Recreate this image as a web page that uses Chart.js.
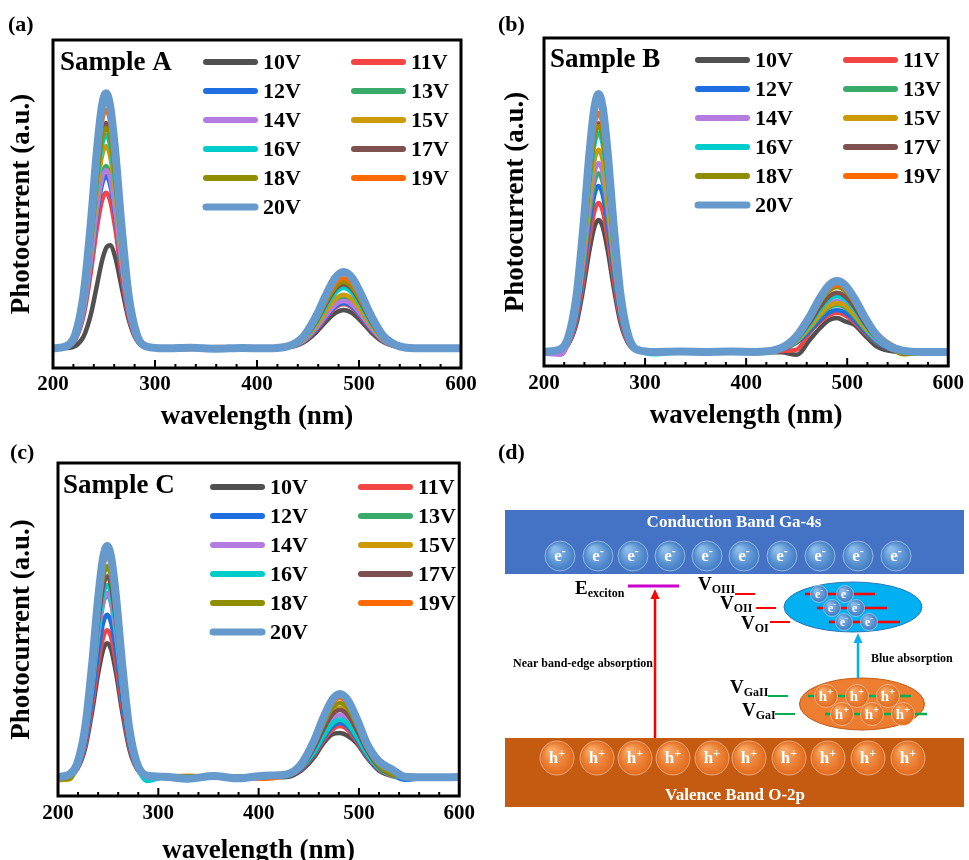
<!DOCTYPE html>
<html>
<head>
<meta charset="utf-8">
<script src="https://cdn.jsdelivr.net/npm/chart.js@4.4.1/dist/chart.umd.min.js"></script>
<style>
  html, body { margin: 0; padding: 0; background: #fff; width: 969px; height: 860px; overflow: hidden; }
  canvas { position: absolute; }
</style>
</head>
<body>
<canvas id="chartA" width="485" height="440" style="left:0;top:0"></canvas>
<canvas id="chartB" width="479" height="440" style="left:490px;top:0"></canvas>
<canvas id="chartC" width="480" height="440" style="left:0;top:430px"></canvas>
<canvas id="diagram" width="479" height="430" style="left:490px;top:430px"></canvas>
<script>
const voltages = ['10V', '11V', '12V', '13V', '14V', '15V', '16V', '17V', '18V', '19V', '20V'];
const colors = ['#505050', '#F44545', '#1F6FE0', '#3AAA6A', '#B47CE0', '#CC9A06', '#00CCCC', '#7E5050', '#8E8E00', '#FF6A00', '#6699CC'];
const xTicks = [200, 300, 400, 500, 600];

// sample A
const wlA = [200, 215, 222, 230, 237, 243, 248, 252, 256, 261, 267, 274, 282, 292, 310, 335, 360, 385, 410, 430, 445, 458, 468, 477, 485, 493, 502, 512, 524, 537, 550, 575, 600];
const a10 = [6.2, 6.1, 6.7, 9.6, 16.2, 25.1, 32.6, 36.5, 37.4, 33.8, 25.1, 15.0, 8.5, 6.3, 5.8, 6.0, 6.2, 5.9, 6.1, 6.3, 7.7, 10.9, 14.3, 16.8, 17.7, 16.8, 14.3, 10.9, 7.9, 6.5, 6.0, 5.8, 5.9];
const a11 = [6.0, 6.6, 8.7, 16.0, 29.1, 42.6, 51.0, 53.4, 51.0, 42.6, 29.1, 16.0, 8.7, 6.3, 6.1, 5.9, 6.3, 6.0, 5.8, 6.4, 8.0, 11.7, 15.5, 18.5, 19.5, 18.5, 15.5, 11.7, 8.2, 6.5, 6.1, 5.9, 6.0];
const a12 = [6.0, 6.7, 8.9, 17.1, 31.6, 46.5, 55.9, 58.5, 55.9, 46.5, 31.6, 17.1, 8.9, 6.3, 5.9, 6.1, 5.8, 6.2, 6.0, 6.4, 8.0, 11.8, 15.8, 18.8, 19.8, 18.8, 15.8, 11.8, 8.2, 6.6, 6.1, 5.8, 6.0];
const a13 = [6.1, 6.7, 9.1, 17.8, 33.1, 48.9, 58.8, 61.6, 58.8, 48.9, 33.1, 17.8, 9.1, 6.3, 6.0, 6.2, 5.9, 6.1, 6.0, 6.4, 8.3, 12.6, 17.0, 20.4, 21.6, 20.4, 17.0, 12.6, 8.5, 6.6, 6.1, 6.0, 5.9];
const a14 = [6.0, 6.7, 9.0, 17.5, 32.5, 48.0, 57.7, 60.4, 57.7, 48.0, 32.5, 17.5, 9.0, 6.3, 5.7, 5.9, 6.1, 5.8, 6.0, 6.4, 8.1, 12.1, 16.2, 19.3, 20.4, 19.3, 16.2, 12.1, 8.3, 6.6, 6.1, 5.8, 6.0];
const a15 = [6.0, 6.8, 9.5, 19.1, 36.0, 53.6, 64.6, 67.7, 64.6, 53.6, 36.0, 19.1, 9.5, 6.4, 6.1, 5.9, 6.2, 6.0, 6.3, 6.4, 8.4, 12.9, 17.5, 21.1, 22.3, 21.1, 17.5, 12.9, 8.6, 6.7, 6.1, 6.0, 6.1];
const a16 = [6.0, 6.8, 9.6, 19.8, 37.7, 56.2, 67.8, 71.0, 67.8, 56.2, 37.7, 19.8, 9.6, 6.4, 5.8, 6.2, 6.0, 6.1, 5.7, 6.5, 8.7, 13.7, 19.0, 23.0, 24.4, 23.0, 19.0, 13.7, 8.9, 6.7, 6.1, 6.2, 6.0];
const a17 = [6.2, 6.9, 9.9, 20.6, 39.5, 59.0, 71.3, 74.7, 71.3, 59.0, 39.5, 20.6, 9.9, 6.4, 6.0, 6.1, 5.9, 6.2, 6.0, 6.5, 8.9, 14.2, 19.8, 24.1, 25.5, 24.1, 19.8, 14.2, 9.1, 6.8, 6.1, 5.9, 5.8];
const a18 = [6.0, 6.8, 9.8, 20.2, 38.7, 57.9, 69.8, 73.2, 69.8, 57.9, 38.7, 20.2, 9.8, 6.4, 6.1, 5.8, 6.0, 6.2, 5.9, 6.5, 9.0, 14.5, 20.3, 24.7, 26.2, 24.7, 20.3, 14.5, 9.2, 6.8, 6.1, 6.0, 5.9];
const a19 = [6.2, 6.9, 10.1, 21.4, 41.4, 62.1, 75.1, 78.7, 75.1, 62.1, 41.4, 21.4, 10.1, 6.4, 6.3, 6.0, 6.4, 6.1, 6.2, 6.6, 9.1, 15.0, 21.1, 25.8, 27.4, 25.8, 21.1, 15.0, 9.4, 6.9, 6.1, 6.2, 6.0];
const a20 = [6.0, 7.0, 10.4, 22.5, 43.9, 66.1, 79.9, 83.8, 79.9, 66.1, 43.9, 22.5, 10.4, 6.5, 6.0, 6.2, 5.9, 6.1, 6.0, 6.6, 9.4, 15.8, 22.5, 27.6, 29.3, 27.6, 22.5, 15.8, 9.7, 6.9, 6.1, 6.0, 6.0];

// sample B
const wlB = [200, 217, 224, 232, 239, 245, 250, 254, 258, 263, 269, 276, 284, 294, 310, 335, 360, 385, 410, 435, 450, 463, 473, 482, 490, 498, 507, 517, 529, 542, 555, 575, 600];
const b10 = [4.3, 4.8, 6.6, 12.8, 23.9, 35.3, 42.5, 44.5, 42.5, 35.3, 23.9, 12.8, 6.6, 4.5, 4.2, 4.4, 4.3, 4.1, 4.3, 4.2, 3.4, 8.0, 11.5, 14.0, 14.6, 13.6, 12.6, 9.5, 6.0, 4.6, 4.2, 4.3, 4.3];
const b11 = [4.2, 4.9, 6.8, 13.9, 26.4, 39.3, 47.4, 49.7, 47.4, 39.3, 26.4, 13.9, 6.8, 4.6, 4.3, 4.2, 4.4, 4.3, 4.2, 4.6, 5.0, 10.3, 13.4, 15.5, 16.2, 15.5, 13.4, 10.3, 7.1, 5.2, 4.5, 4.3, 4.3];
const b12 = [4.0, 4.9, 7.1, 15.0, 28.9, 43.4, 52.4, 54.9, 52.4, 43.4, 28.9, 15.0, 7.1, 4.6, 4.3, 4.4, 4.2, 4.3, 4.4, 5.0, 7.1, 10.7, 14.0, 16.3, 17.1, 16.3, 14.0, 10.7, 7.3, 5.3, 4.5, 4.3, 4.3];
const b13 = [4.3, 5.0, 7.4, 15.9, 30.8, 46.4, 56.1, 58.8, 56.1, 46.4, 30.8, 15.9, 7.4, 4.6, 4.4, 4.3, 4.5, 4.2, 4.3, 5.1, 7.5, 11.5, 15.2, 17.8, 18.6, 17.8, 15.2, 11.5, 7.7, 5.4, 4.6, 4.3, 4.3];
const b14 = [3.8, 3.4, 7.0, 16.5, 32.4, 48.8, 59.0, 61.9, 59.0, 48.8, 32.4, 16.5, 7.5, 4.7, 4.2, 4.3, 4.4, 4.3, 4.2, 5.2, 7.7, 12.1, 16.1, 18.9, 19.8, 18.9, 16.1, 12.1, 8.0, 5.5, 4.6, 4.3, 4.3];
const b15 = [4.3, 5.1, 7.8, 17.4, 34.3, 51.9, 62.8, 65.9, 62.8, 51.9, 34.3, 17.4, 7.8, 4.7, 4.3, 4.5, 4.3, 4.4, 4.3, 5.2, 7.6, 11.8, 15.6, 18.3, 19.2, 18.3, 15.6, 11.8, 8.4, 6.0, 5.0, 4.3, 4.3];
const b16 = [4.3, 5.1, 8.0, 18.4, 36.8, 55.8, 67.7, 71.0, 67.7, 55.8, 36.8, 18.4, 8.0, 4.7, 3.6, 4.3, 4.2, 4.4, 4.3, 5.3, 8.0, 12.8, 17.2, 20.3, 21.3, 20.3, 17.2, 12.8, 8.3, 5.6, 4.6, 4.3, 4.3];
const b17 = [4.3, 5.2, 8.2, 19.1, 38.2, 58.1, 70.5, 74.0, 70.5, 58.1, 38.2, 19.1, 8.2, 4.7, 4.3, 4.4, 4.3, 4.5, 4.3, 5.3, 8.3, 13.3, 18.0, 21.2, 22.3, 21.2, 18.0, 13.3, 8.6, 5.7, 4.6, 4.3, 4.3];
const b18 = [4.3, 5.2, 8.2, 18.9, 37.9, 57.5, 69.8, 73.2, 69.8, 57.5, 37.9, 18.9, 8.2, 4.7, 4.4, 4.3, 4.5, 4.6, 4.3, 5.4, 8.7, 14.2, 19.4, 22.9, 24.1, 22.9, 19.4, 14.2, 9.0, 5.8, 3.6, 4.0, 4.3];
const b19 = [3.9, 5.2, 8.4, 19.7, 39.8, 60.5, 73.5, 77.1, 73.5, 60.5, 39.8, 19.7, 8.4, 4.7, 4.2, 4.3, 4.4, 4.3, 4.0, 5.5, 8.8, 14.5, 19.8, 23.5, 24.7, 23.5, 19.8, 15.0, 10.0, 6.8, 4.9, 4.3, 4.3];
const b20 = [4.3, 5.3, 8.7, 21.0, 42.6, 65.0, 79.0, 82.9, 79.0, 65.0, 42.6, 21.0, 8.7, 4.8, 4.3, 4.4, 4.3, 4.4, 4.3, 5.5, 9.1, 15.1, 20.7, 24.6, 25.9, 24.6, 20.7, 15.1, 9.4, 6.0, 4.7, 4.3, 4.3];

// sample C
const wlC = [200, 212, 219, 227, 234, 240, 245, 249, 253, 258, 264, 271, 279, 289, 305, 330, 355, 380, 405, 428, 442, 455, 464, 473, 481, 489, 498, 508, 520, 533, 546, 570, 600];
const c10 = [5.5, 6.2, 8.0, 14.2, 25.3, 36.7, 43.9, 45.9, 43.9, 36.7, 25.3, 14.2, 8.0, 5.9, 5.6, 5.8, 5.7, 5.9, 5.6, 5.7, 7.5, 11.5, 15.6, 18.5, 18.9, 18.0, 15.8, 11.5, 7.6, 6.0, 5.6, 5.7, 5.6];
const c11 = [5.7, 6.3, 8.2, 15.1, 27.2, 39.7, 47.6, 49.8, 47.6, 39.7, 27.2, 15.1, 8.2, 6.0, 5.8, 5.6, 5.9, 5.7, 5.8, 6.2, 8.0, 12.3, 16.4, 19.8, 21.0, 19.8, 16.4, 11.9, 8.0, 6.2, 5.8, 5.7, 5.7];
const c12 = [5.7, 6.3, 8.4, 16.0, 29.4, 43.3, 52.0, 54.4, 52.0, 43.3, 29.4, 16.0, 8.4, 6.0, 5.7, 5.9, 5.6, 5.8, 5.7, 6.2, 8.1, 12.7, 17.0, 20.7, 21.9, 20.7, 17.0, 12.2, 8.1, 6.3, 4.9, 5.6, 5.7];
const c13 = [5.7, 6.4, 8.8, 17.3, 32.3, 47.9, 57.7, 60.4, 57.7, 47.9, 32.3, 17.3, 8.8, 6.0, 5.8, 5.7, 6.0, 5.6, 5.8, 6.2, 8.3, 13.1, 17.6, 21.5, 22.8, 21.5, 17.6, 12.6, 8.3, 6.3, 5.8, 5.7, 5.7];
const c14 = [5.7, 6.4, 8.8, 17.4, 32.6, 48.4, 58.2, 61.0, 58.2, 48.4, 32.6, 17.4, 8.8, 6.0, 5.7, 5.8, 5.7, 5.9, 5.7, 6.3, 8.5, 13.7, 18.7, 22.9, 24.3, 22.9, 18.7, 13.2, 8.5, 6.3, 5.8, 5.7, 5.7];
const c15 = [4.8, 5.0, 9.2, 19.1, 36.5, 54.6, 65.8, 69.0, 65.8, 54.6, 36.5, 19.1, 9.2, 6.1, 5.9, 6.1, 5.8, 5.7, 5.9, 6.3, 8.8, 14.6, 20.2, 24.9, 26.5, 24.9, 20.2, 14.1, 8.8, 6.4, 5.8, 5.7, 5.7];
const c16 = [5.7, 6.4, 8.9, 17.9, 33.8, 50.2, 60.5, 63.4, 60.5, 50.2, 33.8, 17.9, 8.9, 4.5, 5.6, 5.8, 5.7, 5.8, 6.0, 6.9, 8.9, 13.1, 17.8, 21.7, 23.0, 21.7, 17.8, 12.7, 8.3, 6.3, 5.5, 5.7, 5.7];
const c17 = [5.7, 6.5, 9.1, 18.5, 35.1, 52.3, 63.0, 66.0, 63.0, 52.3, 35.1, 18.5, 9.1, 6.1, 5.8, 5.7, 5.9, 5.6, 5.8, 6.3, 8.7, 14.3, 19.7, 24.3, 25.8, 24.3, 19.7, 13.8, 8.7, 6.4, 5.8, 5.7, 5.7];
const c18 = [5.0, 5.3, 9.2, 19.1, 36.5, 54.6, 65.8, 69.0, 65.8, 54.6, 36.5, 19.1, 9.2, 6.1, 5.7, 5.9, 5.7, 5.8, 5.6, 6.4, 9.0, 15.3, 21.2, 26.2, 27.9, 26.2, 21.2, 14.6, 9.0, 6.5, 5.8, 5.7, 5.7];
const c19 = [5.7, 6.5, 9.4, 19.8, 38.0, 56.9, 68.7, 72.0, 68.7, 56.9, 38.0, 19.8, 9.4, 6.1, 5.5, 5.2, 6.0, 5.4, 5.2, 6.4, 9.2, 15.9, 22.2, 27.6, 29.4, 27.6, 22.2, 16.0, 10.5, 7.5, 6.0, 5.4, 5.7];
const c20 = [5.7, 6.6, 9.6, 20.4, 39.5, 59.3, 71.6, 75.1, 71.6, 59.3, 39.5, 20.4, 9.6, 6.1, 5.8, 5.2, 6.0, 5.3, 6.1, 6.5, 9.4, 16.4, 23.1, 28.7, 30.6, 28.7, 23.1, 15.7, 10.4, 8.0, 5.8, 5.6, 5.7];

const FONT = '"Liberation Serif", "Times New Roman", serif';

// frame, inward ticks, legend, sample name and panel tag
const panelDeco = {
  id: 'panelDeco',
  afterDraw(chart, args, o) {
    const ctx = chart.ctx;
    const a = chart.chartArea;
    const xs = chart.scales.x;
    ctx.save();
    ctx.strokeStyle = '#000';
    ctx.lineWidth = 2;
    for (let v = 220; v < 600; v += 20) {
      const px = xs.getPixelForValue(v);
      const len = v % 100 === 0 ? 8 : 4;
      ctx.beginPath();
      ctx.moveTo(px, a.bottom);
      ctx.lineTo(px, a.bottom - len);
      ctx.stroke();
    }
    ctx.lineWidth = 3;
    ctx.strokeRect(a.left, a.top, a.right - a.left, a.bottom - a.top);

    ctx.fillStyle = '#000';
    ctx.font = 'bold 27px ' + FONT;
    ctx.textBaseline = 'alphabetic';
    ctx.fillText(o.name, a.left + o.nameDx, a.top + o.nameDy);

    ctx.font = 'bold 22px ' + FONT;
    ctx.textBaseline = 'middle';
    ctx.lineCap = 'round';
    chart.data.datasets.forEach(function (ds, i) {
      const x = a.left + (i % 2 ? o.col2 : o.col1);
      const y = a.top + o.row1 + Math.floor(i / 2) * 29;
      ctx.strokeStyle = ds.borderColor;
      ctx.lineWidth = i === 10 ? 7 : 6;
      ctx.beginPath();
      ctx.moveTo(x + 3, y);
      ctx.lineTo(x + 52, y);
      ctx.stroke();
      ctx.fillText(ds.label, x + 60, y + 1);
    });

    ctx.textBaseline = 'alphabetic';
    ctx.fillText(o.tag, o.tagX, o.tagY);
    ctx.restore();
  }
};
Chart.register(panelDeco);

function makeChart(id, wl, series, deco) {
  const datasets = series.map(function (vals, i) {
    return {
      label: voltages[i],
      data: vals.map(function (v, k) { return { x: wl[k], y: v }; }),
      borderColor: colors[i],
      borderWidth: i === 10 ? 8 : 4.5,
      pointRadius: 0,
      cubicInterpolationMode: 'monotone',
      borderCapStyle: 'round',
      borderJoinStyle: 'round',
      fill: false,
      order: 10 - i
    };
  });
  return new Chart(document.getElementById(id), {
    type: 'line',
    data: { datasets: datasets },
    options: {
      responsive: false,
      animation: false,
      devicePixelRatio: 1,
      layout: { padding: { top: deco.top, right: deco.right, left: 0, bottom: 0 } },
      plugins: {
        legend: { display: false },
        tooltip: { enabled: false },
        panelDeco: deco
      },
      scales: {
        x: {
          type: 'linear',
          min: 200,
          max: 600,
          afterBuildTicks: function (s) { s.ticks = xTicks.map(function (v) { return { value: v }; }); },
          ticks: { color: '#000', padding: deco.tickPad, maxRotation: 0, font: { family: FONT, size: 21, weight: 'bold' } },
          grid: { display: false, drawTicks: false },
          border: { display: false },
          title: {
            display: true,
            text: 'wavelength (nm)',
            color: '#000',
            font: { family: FONT, size: 27, weight: 'bold' },
            padding: { top: 0, bottom: deco.xtPad }
          },
          afterFit: function (s) { s.height = deco.xh; }
        },
        y: {
          min: 0,
          max: 100,
          ticks: { display: false },
          grid: { display: false, drawTicks: false },
          border: { display: false },
          title: {
            display: true,
            text: 'Photocurrent (a.u.)',
            color: '#000',
            font: { family: FONT, size: 27, weight: 'bold' },
            padding: { top: deco.ytPad, bottom: 0 }
          },
          afterFit: function (s) { s.width = deco.yw; }
        }
      }
    }
  });
}

makeChart('chartA', wlA, [a10, a11, a12, a13, a14, a15, a16, a17, a18, a19, a20],
  { top: 40, right: 24, xh: 72, yw: 53, tickPad: 4, xtPad: 6.5, ytPad: 6.3, name: 'Sample A', nameDx: 7, nameDy: 30, col1: 150, col2: 298, row1: 22, tag: '(a)', tagX: 8, tagY: 31 });
makeChart('chartB', wlB, [b10, b11, b12, b13, b14, b15, b16, b17, b18, b19, b20],
  { top: 38, right: 16, xh: 74, yw: 54, tickPad: 5, xtPad: 7.5, ytPad: 9.7, name: 'Sample B', nameDx: 6, nameDy: 29, col1: 151, col2: 299, row1: 22, tag: '(b)', tagX: 8, tagY: 31 });
makeChart('chartC', wlC, [c10, c11, c12, c13, c14, c15, c16, c17, c18, c19, c20],
  { top: 33, right: 13, xh: 74, yw: 58, tickPad: 5, xtPad: 2.8, ytPad: 6.3, name: 'Sample C', nameDx: 5, nameDy: 30, col1: 152, col2: 300, row1: 24, tag: '(c)', tagX: 10, tagY: 29 });

// panel (d): band diagram
function ball(ctx, x, y, r, c0, c1, ch, sup, fs) {
  const g = ctx.createRadialGradient(x - r * 0.35, y - r * 0.45, r * 0.15, x, y, r);
  g.addColorStop(0, c0);
  g.addColorStop(1, c1);
  ctx.beginPath();
  ctx.arc(x, y, r, 0, Math.PI * 2);
  ctx.fillStyle = g;
  ctx.fill();
  ctx.strokeStyle = 'rgba(255,255,255,0.45)';
  ctx.lineWidth = 1;
  ctx.stroke();
  ctx.fillStyle = '#fff';
  const fs2 = Math.round(fs * 0.7);
  ctx.font = 'bold ' + fs + 'px ' + FONT;
  const w1 = ctx.measureText(ch).width;
  ctx.font = 'bold ' + fs2 + 'px ' + FONT;
  const w2 = ctx.measureText(sup).width;
  const x0 = x - (w1 + w2) / 2;
  ctx.font = 'bold ' + fs + 'px ' + FONT;
  ctx.fillText(ch, x0, y + fs * 0.32);
  ctx.font = 'bold ' + fs2 + 'px ' + FONT;
  ctx.fillText(sup, x0 + w1, y - fs * 0.08);
}

function subLabel(ctx, main, sub, x, y) {
  ctx.fillStyle = '#000';
  ctx.font = 'bold 19px ' + FONT;
  ctx.fillText(main, x, y);
  const w = ctx.measureText(main).width;
  ctx.font = 'bold 12px ' + FONT;
  ctx.fillText(sub, x + w, y + 3);
}

function hline(ctx, x0, x1, y, color, w) {
  ctx.strokeStyle = color;
  ctx.lineWidth = w;
  ctx.beginPath();
  ctx.moveTo(x0, y);
  ctx.lineTo(x1, y);
  ctx.stroke();
}

function upArrow(ctx, x, y0, y1, color) {
  ctx.strokeStyle = color;
  ctx.fillStyle = color;
  ctx.lineWidth = 2.5;
  ctx.beginPath();
  ctx.moveTo(x, y0);
  ctx.lineTo(x, y1 + 8);
  ctx.stroke();
  ctx.beginPath();
  ctx.moveTo(x, y1);
  ctx.lineTo(x - 4.5, y1 + 10);
  ctx.lineTo(x + 4.5, y1 + 10);
  ctx.closePath();
  ctx.fill();
}

function drawDiagram() {
  const ctx = document.getElementById('diagram').getContext('2d');
  ctx.translate(-490, -430);
  ctx.textBaseline = 'alphabetic';

  ctx.fillStyle = '#000';
  ctx.font = 'bold 22px ' + FONT;
  ctx.fillText('(d)', 498, 459);

  // conduction band
  ctx.fillStyle = '#4472C4';
  ctx.fillRect(505, 510, 459, 64);
  ctx.fillStyle = '#fff';
  ctx.font = 'bold 17px ' + FONT;
  ctx.textAlign = 'center';
  ctx.fillText('Conduction Band Ga-4s', 734, 527);
  ctx.textAlign = 'left';
  [560, 598, 633, 670, 707, 744, 782, 820, 858, 896].forEach(function (x) {
    ball(ctx, x, 556, 15, '#8BBBE9', '#3F7BC4', 'e', '-', 17);
  });

  // valence band
  ctx.fillStyle = '#C55A11';
  ctx.fillRect(505, 738, 459, 69);
  [557, 597, 635, 673, 712, 749, 789, 828, 868, 908].forEach(function (x) {
    ball(ctx, x, 758, 17, '#F9A866', '#E2691A', 'h', '+', 17);
  });
  ctx.fillStyle = '#fff';
  ctx.font = 'bold 17px ' + FONT;
  ctx.textAlign = 'center';
  ctx.fillText('Valence Band O-2p', 735, 800);
  ctx.textAlign = 'left';

  // exciton level and near band-edge transition
  hline(ctx, 628, 679, 586, '#CC00CC', 3);
  subLabel(ctx, 'E', 'exciton', 575, 594);
  upArrow(ctx, 655, 738, 589, '#FF0000');
  ctx.fillStyle = '#000';
  ctx.font = 'bold 12px ' + FONT;
  ctx.fillText('Near band-edge absorption', 513, 667);

  // oxygen vacancy levels
  subLabel(ctx, 'V', 'OIII', 698, 590);
  subLabel(ctx, 'V', 'OII', 720, 609);
  subLabel(ctx, 'V', 'OI', 741, 629);
  hline(ctx, 735, 755, 594, '#FF0000', 2);
  hline(ctx, 756, 776, 608, '#FF0000', 2);
  hline(ctx, 770, 790, 622, '#FF0000', 2);

  ctx.beginPath();
  ctx.ellipse(853, 607, 69, 25, 0, 0, Math.PI * 2);
  ctx.fillStyle = '#00B0F0';
  ctx.fill();
  ctx.strokeStyle = '#2E75B6';
  ctx.lineWidth = 1;
  ctx.stroke();
  hline(ctx, 805, 875, 594, '#FF0000', 2.5);
  hline(ctx, 817, 887, 608, '#FF0000', 2.5);
  hline(ctx, 829, 900, 622, '#FF0000', 2.5);
  [[819, 594], [845, 594], [832, 608], [856, 608], [844, 622], [869, 622]].forEach(function (p) {
    ball(ctx, p[0], p[1], 8.5, '#8BBBE9', '#3F7BC4', 'e', '-', 12);
  });

  // gallium vacancy levels
  subLabel(ctx, 'V', 'GaII', 730, 693);
  subLabel(ctx, 'V', 'GaI', 742, 716);
  hline(ctx, 768, 788, 696, '#00B050', 2);
  hline(ctx, 775, 795, 714, '#00B050', 2);

  ctx.beginPath();
  ctx.ellipse(862, 704, 62.5, 26, 0, 0, Math.PI * 2);
  ctx.fillStyle = '#ED7D31';
  ctx.fill();
  ctx.strokeStyle = '#C55A11';
  ctx.lineWidth = 1;
  ctx.stroke();
  hline(ctx, 808, 911, 696, '#00B050', 2.5);
  hline(ctx, 825, 927, 714, '#00B050', 2.5);
  [[826, 696], [857, 696], [888, 696], [842, 714], [872, 714], [903, 714]].forEach(function (p) {
    ball(ctx, p[0], p[1], 11.5, '#F9A866', '#E2691A', 'h', '+', 15);
  });

  upArrow(ctx, 858, 678, 633, '#00B0F0');
  ctx.fillStyle = '#000';
  ctx.font = 'bold 12px ' + FONT;
  ctx.fillText('Blue absorption', 871, 662);
}
drawDiagram();
</script>
</body>
</html>
